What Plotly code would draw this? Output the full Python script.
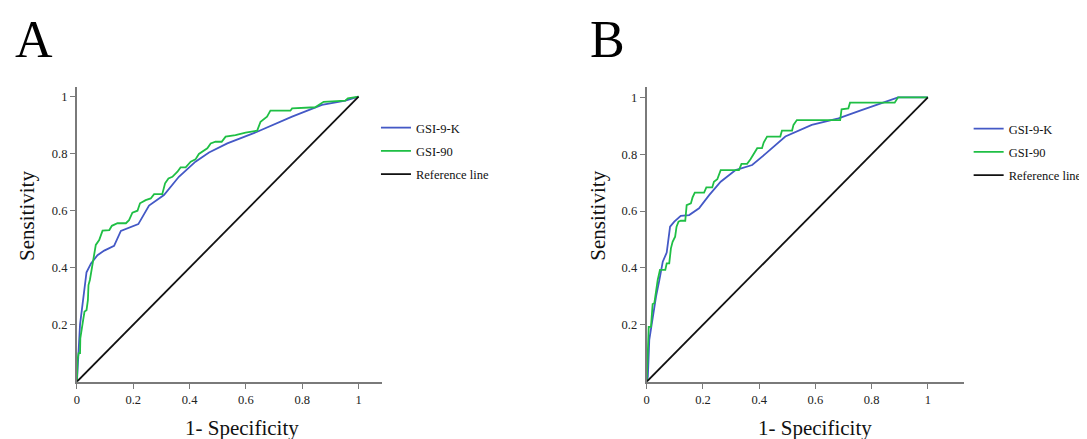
import plotly.graph_objects as go

# ---------------- data ----------------
a_k_x = [0, 0.005, 0.011, 0.034, 0.05, 0.073, 0.097, 0.132, 0.156, 0.218, 0.256, 0.309, 0.362, 0.421, 0.469, 0.534, 0.64, 0.764, 0.87, 0.953, 1.0]
a_k_y = [0, 0.1, 0.2, 0.384, 0.415, 0.444, 0.46, 0.477, 0.529, 0.553, 0.618, 0.655, 0.719, 0.772, 0.804, 0.836, 0.877, 0.93, 0.971, 0.986, 1.0]

a_90_x = [0, 0.002, 0.006, 0.011, 0.012, 0.018, 0.022, 0.027, 0.034, 0.039, 0.041, 0.046, 0.053, 0.059, 0.067, 0.079, 0.091, 0.115, 0.124, 0.144, 0.174, 0.185, 0.197, 0.215, 0.224, 0.244, 0.262, 0.274, 0.303, 0.313, 0.325, 0.339, 0.357, 0.368, 0.386, 0.404, 0.421, 0.433, 0.451, 0.463, 0.475, 0.492, 0.514, 0.528, 0.563, 0.599, 0.64, 0.652, 0.675, 0.687, 0.758, 0.764, 0.846, 0.858, 0.876, 0.953, 0.962, 1.0]
a_90_y = [0, 0.076, 0.1, 0.1, 0.152, 0.2, 0.216, 0.246, 0.251, 0.287, 0.339, 0.357, 0.404, 0.444, 0.48, 0.497, 0.53, 0.532, 0.547, 0.556, 0.556, 0.567, 0.593, 0.6, 0.626, 0.637, 0.643, 0.658, 0.658, 0.696, 0.713, 0.719, 0.737, 0.752, 0.752, 0.772, 0.78, 0.799, 0.813, 0.819, 0.836, 0.842, 0.842, 0.86, 0.865, 0.874, 0.881, 0.912, 0.93, 0.951, 0.951, 0.959, 0.963, 0.971, 0.982, 0.986, 0.994, 1.0]

b_k_x = [0, 0.004, 0.009, 0.019, 0.033, 0.045, 0.057, 0.071, 0.083, 0.098, 0.121, 0.151, 0.186, 0.222, 0.263, 0.316, 0.375, 0.422, 0.493, 0.587, 0.682, 0.764, 0.894, 1.0]
b_k_y = [0, 0.018, 0.147, 0.217, 0.299, 0.358, 0.422, 0.454, 0.545, 0.563, 0.583, 0.586, 0.61, 0.656, 0.703, 0.744, 0.762, 0.801, 0.862, 0.903, 0.926, 0.955, 1.0, 1.0]

b_90_x = [0, 0.004, 0.007, 0.015, 0.017, 0.021, 0.027, 0.031, 0.039, 0.047, 0.066, 0.071, 0.08, 0.086, 0.092, 0.101, 0.106, 0.113, 0.121, 0.137, 0.142, 0.157, 0.163, 0.171, 0.204, 0.212, 0.233, 0.239, 0.251, 0.263, 0.328, 0.337, 0.357, 0.369, 0.381, 0.393, 0.41, 0.416, 0.428, 0.475, 0.481, 0.517, 0.522, 0.534, 0.688, 0.693, 0.717, 0.723, 0.882, 0.894, 1.0]
b_90_y = [0, 0.135, 0.193, 0.193, 0.217, 0.273, 0.276, 0.311, 0.358, 0.393, 0.393, 0.416, 0.416, 0.469, 0.492, 0.51, 0.545, 0.563, 0.566, 0.566, 0.621, 0.627, 0.648, 0.665, 0.665, 0.683, 0.683, 0.703, 0.712, 0.744, 0.744, 0.766, 0.766, 0.782, 0.803, 0.821, 0.821, 0.841, 0.862, 0.862, 0.883, 0.883, 0.903, 0.92, 0.92, 0.958, 0.961, 0.981, 0.981, 1.0, 1.0]

ref_x = [0, 1]
ref_y = [0, 1]

series_names = ["GSI-9-K", "GSI-90", "Reference line"]
x_tickvals = [0, 0.2, 0.4, 0.6, 0.8, 1]
x_ticktext = ["0", "0.2", "0.4", "0.6", "0.8", "1"]
y_tickvals = [0.2, 0.4, 0.6, 0.8, 1]
y_ticktext = ["0.2", "0.4", "0.6", "0.8", "1"]
panel_labels = ["A", "B"]
x_title = "1- Specificity"
y_title = "Sensitivity"

# ---------------- styling / layout ----------------
VIEW_W, VIEW_H = 1087, 439
OFF = 8  # default page body margin
W, H = VIEW_W - OFF, VIEW_H - OFF
FONT = "Liberation Serif, Times New Roman, serif"
BLUE = "#4459c6"
GREEN = "#1fbf45"
BLACK = "#111111"
AXIS = "#7a7a7a"


def fx(px):
    return (px - OFF) / W


def fy(py):
    return 1 - (py - OFF) / H


fig = go.Figure()

panels = [
    dict(xa="x", ya="y", leg="legend", x0=74.3, x1=357.5, xend=381, y0=381.7, y1=96.7, ytop=86.7,
         data=[(a_k_x, a_k_y), (a_90_x, a_90_y)]),
    dict(xa="x2", ya="y2", leg="legend2", x0=647.3, x1=930, xend=966, y0=381.7, y1=97.3, ytop=86.7,
         data=[(b_k_x, b_k_y), (b_90_x, b_90_y)]),
]

for i, p in enumerate(panels):
    (kx, ky), (gx, gy) = p["data"]
    for (xs, ys, name, col) in [(kx, ky, series_names[0], BLUE), (gx, gy, series_names[1], GREEN),
                                (ref_x, ref_y, series_names[2], BLACK)]:
        fig.add_trace(go.Scatter(x=xs, y=ys, mode="lines", name=name,
                                 line=dict(color=col, width=1.8),
                                 xaxis=p["xa"], yaxis=p["ya"], legend=p["leg"],
                                 legendgroup=f"{p['leg']}_{name}", showlegend=True))
    sx = p["x1"] - p["x0"]
    sy = p["y0"] - p["y1"]
    xr = [0, (p["xend"] - p["x0"]) / sx]
    yr = [0, (p["y0"] - p["ytop"]) / sy]
    xdom = [fx(p["x0"]), fx(p["xend"])]
    ydom = [fy(p["y0"]), fy(p["ytop"])]
    suffix = "" if i == 0 else "2"
    common = dict(showgrid=False, zeroline=False, showline=True, linecolor=AXIS, linewidth=2,
                  ticks="outside", ticklen=5, tickwidth=1.2, tickcolor=AXIS,
                  tickfont=dict(family=FONT, size=12.5, color="#222"), fixedrange=True)
    fig.layout["xaxis" + suffix] = dict(domain=xdom, range=xr, tickvals=x_tickvals, ticktext=x_ticktext,
                                       anchor="y" + suffix, **common)
    fig.layout["yaxis" + suffix] = dict(domain=ydom, range=yr, tickvals=y_tickvals, ticktext=y_ticktext,
                                       anchor="x" + suffix, **common)

leg_common = dict(font=dict(family=FONT, size=12.5, color="#111"), bgcolor="rgba(0,0,0,0)",
                  tracegroupgap=4, xanchor="left", yanchor="top", itemwidth=30)
fig.update_layout(
    legend=dict(x=fx(375), y=fy(113), **leg_common),
    legend2=dict(x=fx(971), y=fy(114), **leg_common),
)

annotations = [
    dict(text=panel_labels[0], x=fx(31), y=fy(39), font=dict(family=FONT, size=52, color="black")),
    dict(text=panel_labels[1], x=fx(608), y=fy(39), font=dict(family=FONT, size=52, color="black")),
    dict(text=x_title, x=fx(240), y=fy(428), font=dict(family=FONT, size=21, color="#111")),
    dict(text=x_title, x=fx(816), y=fy(428), font=dict(family=FONT, size=21, color="#111")),
    dict(text=y_title, x=fx(24), y=fy(216), textangle=-90, font=dict(family=FONT, size=21, color="#111")),
    dict(text=y_title, x=fx(598), y=fy(216), textangle=-90, font=dict(family=FONT, size=21, color="#111")),
]
for a in annotations:
    a.update(xref="paper", yref="paper", showarrow=False, xanchor="center", yanchor="middle")
fig.update_layout(annotations=annotations)

fig.update_layout(width=W, height=H, margin=dict(l=0, r=0, t=0, b=0),
                  paper_bgcolor="white", plot_bgcolor="white", showlegend=True)

fig.write_html("out.html")
